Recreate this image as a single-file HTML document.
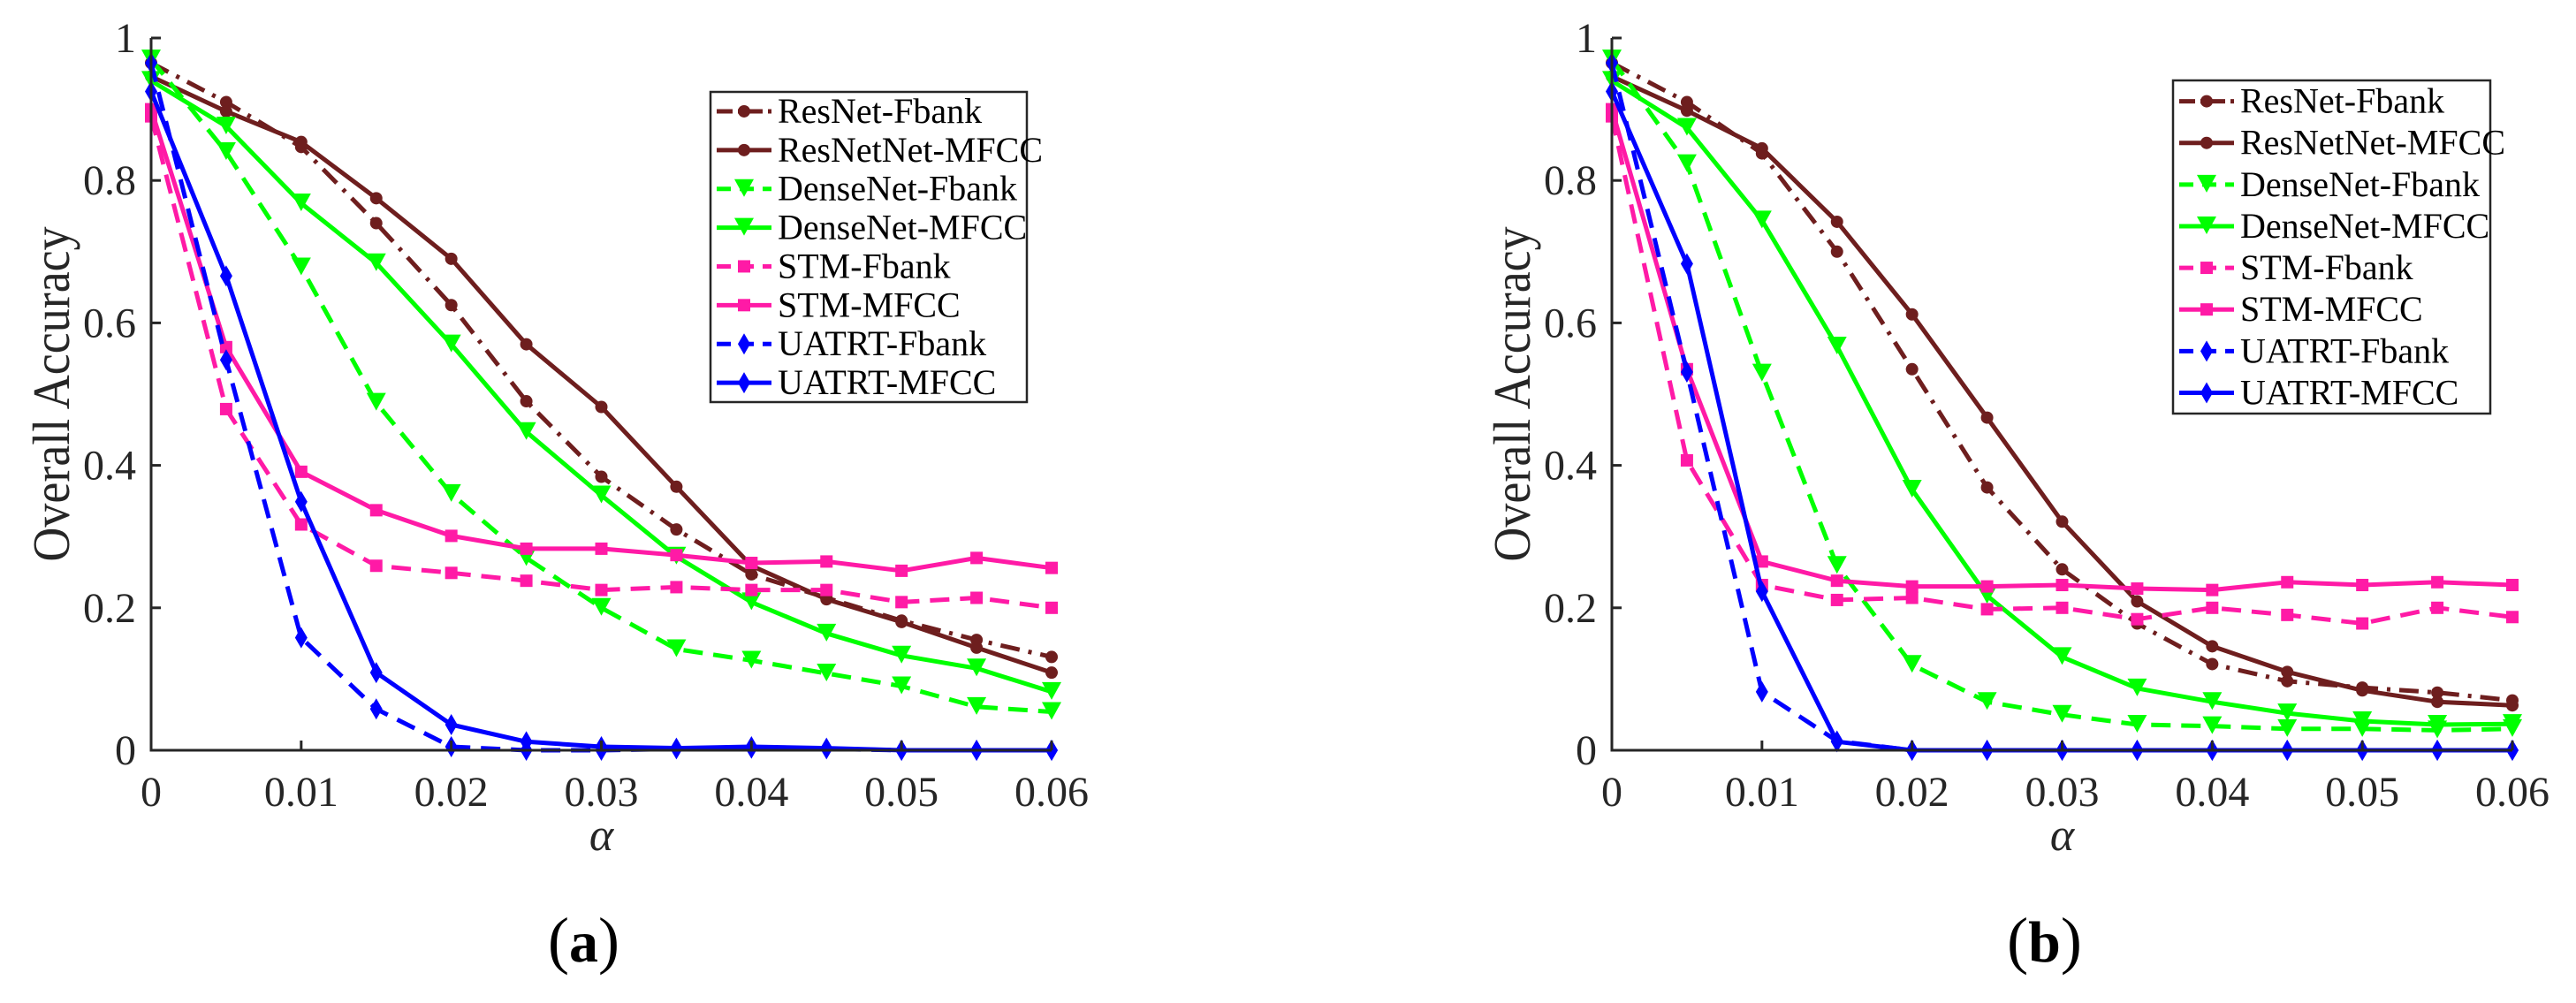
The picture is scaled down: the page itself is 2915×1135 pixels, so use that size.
<!DOCTYPE html>
<html><head><meta charset="utf-8"><style>
html,body{margin:0;padding:0;background:#fff;}
svg{display:block;}
svg text{font-family:"Liberation Serif","DejaVu Serif",serif;}
</style></head><body>
<svg id="fig" width="2915" height="1135" viewBox="0 0 2915 1135"></svg>
<script>
const xVals=[0,0.005,0.01,0.015,0.02,0.025,0.03,0.035,0.04,0.045,0.05,0.055,0.06];
const xTicks=[0,0.01,0.02,0.03,0.04,0.05,0.06];
const xTickLabels=["0","0.01","0.02","0.03","0.04","0.05","0.06"];
const yTicks=[0,0.2,0.4,0.6,0.8,1];
const yTickLabels=["0","0.2","0.4","0.6","0.8","1"];
const seriesNames=["ResNet-Fbank","ResNetNet-MFCC","DenseNet-Fbank","DenseNet-MFCC","STM-Fbank","STM-MFCC","UATRT-Fbank","UATRT-MFCC"];
// panel (a)
const aResFb=[0.965,0.91,0.847,0.74,0.625,0.49,0.384,0.31,0.247,0.214,0.182,0.155,0.131];
const aResMf=[0.946,0.897,0.854,0.775,0.69,0.57,0.482,0.37,0.259,0.212,0.18,0.144,0.109];
const aDenFb=[0.97,0.84,0.678,0.488,0.36,0.27,0.2,0.142,0.126,0.108,0.09,0.061,0.054];
const aDenMf=[0.94,0.876,0.768,0.684,0.57,0.447,0.358,0.272,0.208,0.164,0.133,0.115,0.082];
const aStmFb=[0.89,0.479,0.317,0.259,0.249,0.238,0.225,0.229,0.225,0.225,0.208,0.214,0.2];
const aStmMf=[0.9,0.566,0.391,0.337,0.301,0.283,0.283,0.274,0.263,0.265,0.252,0.27,0.256];
const aUaFb=[0.965,0.548,0.158,0.058,0.005,0.0,0.0,0.002,0.003,0.002,0,0,0];
const aUaMf=[0.925,0.666,0.349,0.109,0.036,0.012,0.005,0.003,0.005,0.003,0,0,0];
// panel (b)
const bResFb=[0.965,0.91,0.838,0.70,0.535,0.369,0.254,0.178,0.121,0.097,0.088,0.081,0.07];
const bResMf=[0.946,0.898,0.845,0.742,0.612,0.467,0.321,0.209,0.146,0.11,0.084,0.068,0.063];
const bDenFb=[0.97,0.823,0.529,0.259,0.12,0.068,0.05,0.036,0.034,0.03,0.03,0.028,0.03];
const bDenMf=[0.94,0.874,0.744,0.567,0.366,0.217,0.131,0.087,0.068,0.052,0.041,0.036,0.037];
const bStmFb=[0.89,0.407,0.232,0.211,0.214,0.198,0.2,0.184,0.2,0.19,0.178,0.2,0.187];
const bStmMf=[0.9,0.535,0.265,0.238,0.23,0.23,0.232,0.227,0.225,0.236,0.232,0.236,0.232];
const bUaFb=[0.965,0.531,0.082,0.013,0,0,0,0,0,0,0,0,0];
const bUaMf=[0.925,0.683,0.223,0.012,0,0,0,0,0,0,0,0,0];

const NS="http://www.w3.org/2000/svg";
const SERIF='"Liberation Serif", "DejaVu Serif", serif';
const svg=document.getElementById('fig');
function mk(tag,attrs,parent){const e=document.createElementNS(NS,tag);for(const k in attrs)e.setAttribute(k,attrs[k]);(parent||svg).appendChild(e);return e;}
const styles=[
 {c:"#6e1e1e",dash:"22 10 4 10",m:"o"},
 {c:"#6e1e1e",dash:"",m:"o"},
 {c:"#00ff00",dash:"22 12",m:"v"},
 {c:"#00ff00",dash:"",m:"v"},
 {c:"#ff1aa6",dash:"22 12",m:"s"},
 {c:"#ff1aa6",dash:"",m:"s"},
 {c:"#0000ff",dash:"22 12",m:"d"},
 {c:"#0000ff",dash:"",m:"d"}];
function marker(g,type,x,y,c){
 let e;
 if(type==="o") e=mk('circle',{cx:x,cy:y,r:7,fill:c},g);
 else if(type==="v") e=mk('polygon',{points:`${x-11},${y-11} ${x+11},${y-11} ${x},${y+9}`,fill:c},g);
 else if(type==="s") e=mk('rect',{x:x-7,y:y-7,width:14,height:14,fill:c},g);
 else e=mk('polygon',{points:`${x},${y-12} ${x+7},${y} ${x},${y+12} ${x-7},${y}`,fill:c},g);
 
 
}
function panel(id,x0,x1,y0,y1,data,leg,label){
 const g=mk('g',{});
 
 
 const sx=v=>x0+(v-0)/(0.06-0)*(x1-x0);
 const sy=v=>y0-(v-0)/(1-0)*(y0-y1);
 data.forEach((arr,i)=>{
  const st=styles[i];
  const sg=mk('g',{},g);
  
  
  const pts=arr.map((v,j)=>sx(xVals[j]).toFixed(1)+','+sy(v).toFixed(1)).join(' ');
  const pl=mk('polyline',{points:pts,fill:'none',stroke:st.c,'stroke-width':5,'stroke-dasharray':st.dash,'stroke-linejoin':'round'},sg);
  
  
  arr.forEach((v,j)=>marker(sg,st.m,sx(xVals[j]),sy(v),st.c));
 });
 const ax=mk('path',{d:`M${x0},${y1} L${x0},${y0} L${x1},${y0}`,fill:'none',stroke:'#262626','stroke-width':3},g);
 
 
 xTicks.forEach((t,i)=>{
  const x=sx(t);
  mk('line',{x1:x,y1:y0,x2:x,y2:y0-11,stroke:'#262626','stroke-width':3},g);
  const tx=mk('text',{x:x,y:912,'font-size':48,'text-anchor':'middle',fill:'#262626','font-family':SERIF},g);
  tx.textContent=xTickLabels[i];
  
  
 });
 yTicks.forEach((t,i)=>{
  const y=sy(t);
  mk('line',{x1:x0,y1:y,x2:x0+11,y2:y,stroke:'#262626','stroke-width':3},g);
  const tx=mk('text',{x:x0-17,y:y+16,'font-size':48,'text-anchor':'end',fill:'#262626','font-family':SERIF},g);
  tx.textContent=yTickLabels[i];
  
  
 });
 const xl=mk('text',{x:(x0+x1)/2,y:962,'font-size':52,'font-style':'italic','text-anchor':'middle',fill:'#262626','font-family':SERIF},g);
 xl.textContent='α';
 
 
 const yl=mk('text',{x:0,y:0,'font-size':54,'text-anchor':'middle',fill:'#262626','font-family':SERIF,transform:`translate(${x0-93},${(y0+y1)/2}) rotate(-90) scale(1,1.1)`},g);
 yl.textContent='Overall Accuracy';
 
 
 const pl=mk('text',{x:(x0+x1)/2-20,y:1088,'font-size':72,'text-anchor':'middle',fill:'#000','font-family':SERIF},g);
 pl.innerHTML='(<tspan font-weight="bold" font-size="66">'+label+'</tspan>)';
 
 
 const lg=mk('g',{},g);
 
 
 mk('rect',{x:leg.x,y:leg.y,width:leg.w,height:leg.h,fill:'#fff',stroke:'#262626','stroke-width':2.5},lg);
 seriesNames.forEach((n,i)=>{
  const st=styles[i];
  const cy=leg.y+leg.h/16*(2*i+1);
  const en=mk('g',{},lg);
  
  
  mk('line',{x1:leg.x+7,y1:cy,x2:leg.x+7+leg.sl,y2:cy,stroke:st.c,'stroke-width':5,'stroke-dasharray':st.dash==="22 10 4 10"?"18 6 4 6":(st.dash?"16 10":"")},en);
  marker(en,st.m,leg.x+7+leg.sl/2,cy,st.c);
  const t=mk('text',{x:leg.x+leg.sl+14,y:cy+13,'font-size':40,fill:'#000','font-family':SERIF},en);
  t.textContent=n;
 });
}
panel('a',171,1190,849,43,[aResFb,aResMf,aDenFb,aDenMf,aStmFb,aStmMf,aUaFb,aUaMf],{x:804,y:104,w:358,h:351,sl:62},'a');
panel('b',1824,2843,849,43,[bResFb,bResMf,bDenFb,bDenMf,bStmFb,bStmMf,bUaFb,bUaMf],{x:2459,y:91,w:359,h:377,sl:62},'b');
</script>
</body></html>
